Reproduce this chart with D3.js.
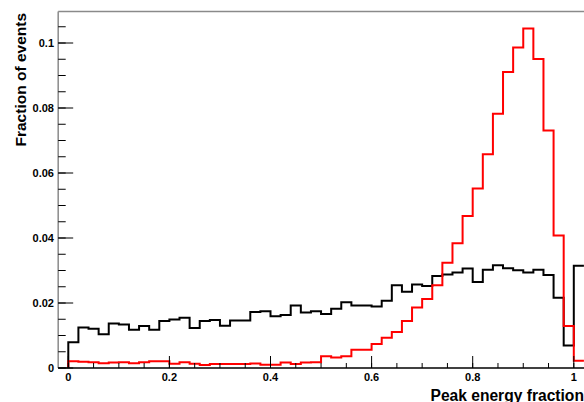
<!DOCTYPE html>
<html>
<head>
<meta charset="utf-8">
<script src="https://cdn.jsdelivr.net/npm/d3@7"></script>
<style>
  html, body { margin: 0; padding: 0; background: #fff; }
  svg { display: block; }
  text { font-family: "Liberation Sans", Arial, sans-serif; font-weight: bold; }
</style>
</head>
<body>
<svg id="chart" width="584" height="402"></svg>
<script>
// ---- data ----
const binWidth = 0.02;
const blackValues = [
  0.0079, 0.0125, 0.0121, 0.0104, 0.0137, 0.0134, 0.0118, 0.0129, 0.0118, 0.0145,
  0.0149, 0.0155, 0.0123, 0.0145, 0.0148, 0.0130, 0.0146, 0.0146, 0.0172, 0.0175,
  0.0159, 0.0163, 0.0192, 0.0171, 0.0175, 0.0166, 0.0182, 0.0202, 0.0192, 0.0192,
  0.0189, 0.0207, 0.0255, 0.0235, 0.0257, 0.0252, 0.0283, 0.0288, 0.0294, 0.0306,
  0.0265, 0.0302, 0.0316, 0.0307, 0.0301, 0.0294, 0.0302, 0.0286, 0.0216, 0.0069,
  0.0315
];
const redValues = [
  0.0021, 0.0019, 0.0018, 0.0015, 0.0017, 0.0018, 0.0015, 0.0018, 0.0021, 0.0021,
  0.0013, 0.0018, 0.0013, 0.0009, 0.0012, 0.0012, 0.0012, 0.0012, 0.0014, 0.0010,
  0.0010, 0.0017, 0.0012, 0.0017, 0.0018, 0.0036, 0.0032, 0.0036, 0.0056, 0.0056,
  0.0074, 0.0093, 0.0111, 0.0145, 0.0186, 0.0212, 0.0255, 0.0324, 0.0384, 0.0468,
  0.0552, 0.0658, 0.0782, 0.0911, 0.0986, 0.1045, 0.0951, 0.0731, 0.0408, 0.0129,
  0.0022
];
const xTickValues = [0, 0.2, 0.4, 0.6, 0.8, 1.0];
const xTickLabels = ["0", "0.2", "0.4", "0.6", "0.8", "1"];
const yTickValues = [0, 0.02, 0.04, 0.06, 0.08, 0.1];
const yTickLabels = ["0", "0.02", "0.04", "0.06", "0.08", "0.1"];
const xTitle = "Peak energy fraction";
const yTitle = "Fraction of events";

// ---- scales ----
const xMin = -0.02, xMax = 1.06, yMax = 0.1097;
const x = d3.scaleLinear().domain([0, 1]).range([68.3, 573.8]);
const y = d3.scaleLinear().domain([0, 0.1]).range([368, 43]);

const svg = d3.select("#chart");
const fLeft = x(xMin), fRight = x(xMax), fTop = y(yMax), fBottom = y(0);

// frame lines (left + top gray)
svg.append("line").attr("x1", fLeft).attr("x2", fRight).attr("y1", fTop).attr("y2", fTop)
  .attr("stroke", "#8a8a8a").attr("stroke-width", 1.5);
svg.append("line").attr("x1", fLeft).attr("x2", fLeft).attr("y1", fTop).attr("y2", fBottom)
  .attr("stroke", "#8a8a8a").attr("stroke-width", 1.5);

// ---- histograms (right end runs off the visible frame, no closing drop) ----
function stepPath(values) {
  const p = d3.path();
  p.moveTo(x(0), y(0));
  values.forEach((v, i) => {
    const x0 = x(i * binWidth), x1 = x((i + 1) * binWidth);
    p.lineTo(x0, y(v));
    p.lineTo(x1, y(v));
  });
  return p.toString();
}
const plot = svg.append("g");
plot.append("path").attr("d", stepPath(blackValues))
  .attr("fill", "none").attr("stroke", "#000").attr("stroke-width", 2);
plot.append("path").attr("d", stepPath(redValues))
  .attr("fill", "none").attr("stroke", "#ff0000").attr("stroke-width", 2);

// ---- x axis ----
svg.append("line").attr("x1", fLeft).attr("x2", fRight).attr("y1", fBottom).attr("y2", fBottom)
  .attr("stroke", "#000").attr("stroke-width", 1.5);
const xAxis = svg.append("g");
const xMinor = d3.range(0, 1.0501, 0.05).filter(v => x(v) < 584);
xAxis.selectAll("line.minor").data(xMinor).enter().append("line")
  .attr("x1", d => x(d)).attr("x2", d => x(d))
  .attr("y1", fBottom).attr("y2", fBottom - 5)
  .attr("stroke", "#000").attr("stroke-width", 1);
xAxis.selectAll("line.major").data(xTickValues).enter().append("line")
  .attr("x1", d => x(d)).attr("x2", d => x(d))
  .attr("y1", fBottom).attr("y2", fBottom - 12)
  .attr("stroke", "#000").attr("stroke-width", 1);
xAxis.selectAll("text").data(xTickValues).enter().append("text")
  .attr("x", d => x(d)).attr("y", 380.5)
  .attr("text-anchor", "middle").attr("font-size", 11)
  .text((d, i) => xTickLabels[i]);

// ---- y axis ----
const yAxis = svg.append("g");
const yMinor = d3.range(0, 0.1051, 0.005);
yAxis.selectAll("line.minor").data(yMinor).enter().append("line")
  .attr("x1", fLeft).attr("x2", fLeft + 7.5)
  .attr("y1", d => y(d)).attr("y2", d => y(d))
  .attr("stroke", "#000").attr("stroke-width", 1);
yAxis.selectAll("line.major").data(yTickValues).enter().append("line")
  .attr("x1", fLeft).attr("x2", fLeft + 15)
  .attr("y1", d => y(d)).attr("y2", d => y(d))
  .attr("stroke", "#000").attr("stroke-width", 1);
yAxis.selectAll("text").data(yTickValues).enter().append("text")
  .attr("x", 54).attr("y", d => y(d) + 4)
  .attr("text-anchor", "end").attr("font-size", 11)
  .text((d, i) => yTickLabels[i]);

// ---- titles ----
svg.append("text").attr("transform", "translate(26,13) rotate(-90)")
  .attr("text-anchor", "end").attr("font-size", 15.5).text(yTitle);
svg.append("text").attr("x", 430.5).attr("y", 400.5)
  .attr("text-anchor", "start").attr("font-size", 15.6).text(xTitle);
</script>
</body>
</html>
